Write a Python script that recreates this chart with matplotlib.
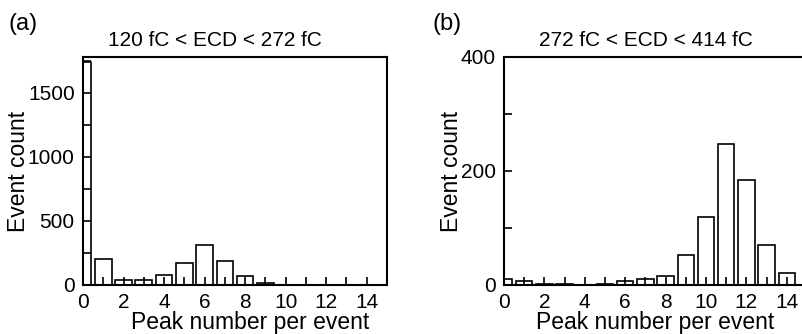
import matplotlib.pyplot as plt
from matplotlib.ticker import MultipleLocator

plt.rcParams['font.family'] = ['Liberation Sans', 'DejaVu Sans']

# peak number per event (bins)
peaks = list(range(15))

# event counts, panel (a): 120 fC < ECD < 272 fC
counts_a = [1740, 205, 40, 36, 80, 172, 312, 185, 73, 15, 0, 0, 0, 0, 0]
# event counts, panel (b): 272 fC < ECD < 414 fC
counts_b = [10, 7, 1, 2, 0, 2, 7, 10, 16, 53, 119, 248, 184, 71, 21]

titles = ["120 fC < ECD < 272 fC", "272 fC < ECD < 414 fC"]
tags = ["(a)", "(b)"]
ylims = [1780, 400]
ymajor = [500, 200]
yminor = [250, 100]

W, H = 802, 334
fig = plt.figure(figsize=(W / 100, H / 100), dpi=100)

boxes = [(83, 57, 387, 285), (504, 57, 807, 285)]
tag_x = [8, 432]
title_x = [215, 646]
xlabel_x = [250, 655]
ylabel_x = [19, 451]

for i, counts in enumerate([counts_a, counts_b]):
    x0, y0, x1, y1 = boxes[i]
    ax = fig.add_axes([x0 / W, 1 - y1 / H, (x1 - x0) / W, (y1 - y0) / H])
    ax.bar(peaks, counts, width=0.82, facecolor='white', edgecolor='black',
           linewidth=1.2)
    ax.set_xlim(0, 15)
    ax.set_ylim(0, ylims[i])
    ax.xaxis.set_major_locator(MultipleLocator(2))
    ax.xaxis.set_minor_locator(MultipleLocator(1))
    ax.yaxis.set_major_locator(MultipleLocator(ymajor[i]))
    ax.yaxis.set_minor_locator(MultipleLocator(yminor[i]))
    ax.tick_params(which='both', direction='in', length=6, width=1.2,
                   top=False, right=False, labelsize=15, pad=6)
    for s in ax.spines.values():
        s.set_linewidth(1.5)
    ax.set_xlabel("Peak number per event", fontsize=16.5)
    ax.set_ylabel("Event count", fontsize=16.5)
    ax.xaxis.set_label_coords((xlabel_x[i] - x0) / (x1 - x0),
                              (y1 - 311) / (y1 - y0), transform=ax.transAxes)
    ax.xaxis.label.set_va('top')
    ax.yaxis.set_label_coords((ylabel_x[i] - x0) / (x1 - x0), 0.5,
                              transform=ax.transAxes)
    ax.yaxis.label.set_va('center')
    fig.text(title_x[i] / W, 1 - 40 / H, titles[i], fontsize=15,
             ha='center', va='center')
    fig.text(tag_x[i] / W, 1 - 24 / H, tags[i], fontsize=17, va='center',
             ha='left')

fig.savefig("out.png", dpi=100)
